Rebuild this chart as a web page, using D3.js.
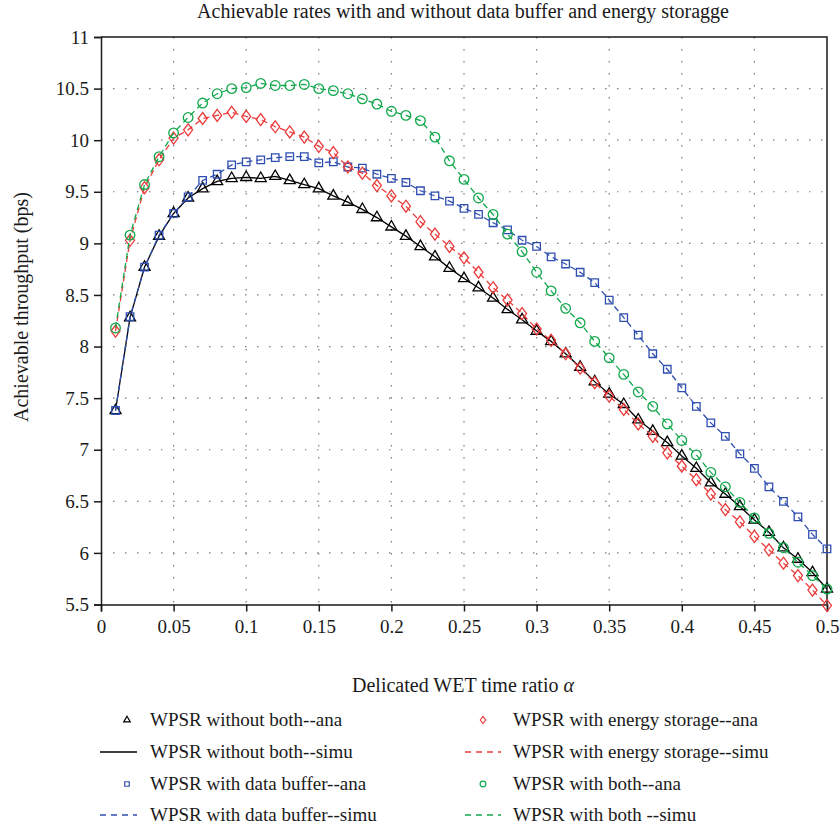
<!DOCTYPE html>
<html lang="en">
<head>
<meta charset="UTF-8">
<title>Achievable rates</title>
<script src="https://d3js.org/d3.v7.min.js"></script>
<style>
    body { margin: 0; background: #fff; }
    svg { font-family: "Liberation Serif", "DejaVu Serif", serif; }
</style>
</head>
<body>
<svg width="840" height="826"></svg>
<script>
    // WET time ratio alpha, 0.01 .. 0.50
    const alphas = [0.01,0.02,0.03,0.04,0.05,0.06,0.07,0.08,0.09,0.10,
                    0.11,0.12,0.13,0.14,0.15,0.16,0.17,0.18,0.19,0.20,
                    0.21,0.22,0.23,0.24,0.25,0.26,0.27,0.28,0.29,0.30,
                    0.31,0.32,0.33,0.34,0.35,0.36,0.37,0.38,0.39,0.40,
                    0.41,0.42,0.43,0.44,0.45,0.46,0.47,0.48,0.49,0.50];

    const withoutBoth = [7.38,8.28,8.77,9.07,9.29,9.44,9.53,9.60,9.63,9.64,
                         9.63,9.65,9.61,9.57,9.53,9.46,9.40,9.33,9.25,9.16,
                         9.07,8.97,8.87,8.76,8.66,8.57,8.47,8.36,8.26,8.15,
                         8.05,7.93,7.80,7.66,7.54,7.44,7.29,7.18,7.07,6.94,
                         6.82,6.68,6.57,6.45,6.32,6.20,6.05,5.94,5.81,5.65];

    const dataBuffer = [7.38,8.29,8.77,9.08,9.29,9.45,9.61,9.67,9.76,9.79,
                        9.81,9.83,9.84,9.84,9.78,9.79,9.74,9.73,9.67,9.63,
                        9.59,9.51,9.46,9.41,9.34,9.28,9.20,9.13,9.03,8.97,
                        8.87,8.80,8.72,8.62,8.45,8.28,8.11,7.93,7.78,7.60,
                        7.42,7.26,7.13,6.96,6.82,6.64,6.50,6.35,6.18,6.04];

    const energyStorage = [8.15,9.03,9.54,9.81,10.02,10.10,10.21,10.24,10.27,10.23,
                           10.20,10.13,10.08,10.03,9.94,9.88,9.74,9.68,9.56,9.46,
                           9.36,9.21,9.09,8.97,8.86,8.72,8.57,8.45,8.32,8.17,
                           8.06,7.93,7.79,7.65,7.52,7.39,7.25,7.13,6.97,6.84,
                           6.71,6.57,6.42,6.30,6.16,6.03,5.90,5.78,5.64,5.49];

    const withBoth = [8.18,9.08,9.57,9.84,10.07,10.22,10.36,10.45,10.50,10.51,
                      10.55,10.53,10.53,10.54,10.50,10.48,10.45,10.40,10.35,10.28,
                      10.24,10.19,10.03,9.80,9.62,9.44,9.28,9.09,8.92,8.72,
                      8.54,8.37,8.23,8.05,7.89,7.73,7.56,7.42,7.25,7.09,
                      6.95,6.78,6.64,6.49,6.34,6.19,6.05,5.91,5.78,5.65];

    const xTicks = [0,0.05,0.1,0.15,0.2,0.25,0.3,0.35,0.4,0.45,0.5];
    const yTicks = [5.5,6,6.5,7,7.5,8,8.5,9,9.5,10,10.5,11];

    const series = [
        {name: "WPSR without both", values: withoutBoth, color: "#000000", marker: "triangle", dash: null,
         ana: "WPSR without both--ana", simu: "WPSR without both--simu"},
        {name: "WPSR with data buffer", values: dataBuffer, color: "#2f4fb0", marker: "square", dash: "6,4",
         ana: "WPSR with data buffer--ana", simu: "WPSR with data buffer--simu"},
        {name: "WPSR with energy storage", values: energyStorage, color: "#ec3b3b", marker: "diamond", dash: "6,4",
         ana: "WPSR with energy storage--ana", simu: "WPSR with energy storage--simu"},
        {name: "WPSR with both", values: withBoth, color: "#12a84c", marker: "circle", dash: "6,4",
         ana: "WPSR with both--ana", simu: "WPSR with both --simu"}
    ];

    const svg = d3.select("svg");
    const pLeft = 101, pRight = 827, pTop = 37, pBottom = 604.5;

    const x = d3.scaleLinear().domain([0, 0.5]).range([pLeft, pRight]);
    const y = d3.scaleLinear().domain([5.5, 11]).range([pBottom, pTop]);

    // marker paths, scale k for the small legend ones
    function markerPath(type, k) {
        if (type === "triangle") {
            const w = 11 * k, h = 9.5 * k;
            return `M0,${-2 * h / 3}L${w / 2},${h / 3}L${-w / 2},${h / 3}Z`;
        }
        if (type === "square") {
            const s = 7.5 * k / 2;
            return `M${-s},${-s}H${s}V${s}H${-s}Z`;
        }
        if (type === "diamond") {
            const w = 9 * k / 2, h = 12 * k / 2;
            return `M0,${-h}L${w},0L0,${h}L${-w},0Z`;
        }
        return d3.symbol(d3.symbolCircle, Math.PI * Math.pow(4.8 * k, 2))();
    }

    // grid
    const grid = svg.append("g")
        .attr("stroke", "#7a7a7a")
        .attr("stroke-width", 1.2)
        .attr("stroke-dasharray", "1.5,10.5");
    grid.selectAll("line.gx")
        .data(xTicks.slice(1, -1))
        .join("line")
        .attr("x1", d => x(d)).attr("x2", d => x(d))
        .attr("y1", pTop).attr("y2", pBottom);
    grid.selectAll("line.gy")
        .data(yTicks.slice(1, -1))
        .join("line")
        .attr("y1", d => y(d)).attr("y2", d => y(d))
        .attr("x1", pLeft).attr("x2", pRight);

    // axes
    const xAxis = svg.append("g")
        .attr("transform", `translate(0,${pBottom})`)
        .call(d3.axisBottom(x).tickValues(xTicks).tickFormat(d3.format("")).tickSizeOuter(0).tickSize(7).tickPadding(8));
    const yAxis = svg.append("g")
        .attr("transform", `translate(${pLeft},0)`)
        .call(d3.axisLeft(y).tickValues(yTicks).tickFormat(d3.format("")).tickSizeOuter(0).tickSize(7).tickPadding(5));
    [xAxis, yAxis].forEach(a => {
        a.attr("font-family", null);
        a.selectAll("text").attr("font-size", 19).attr("fill", "#1a1a1a");
        a.selectAll("line").attr("stroke", "#1a1a1a").attr("stroke-width", 1.5);
        a.select(".domain").attr("stroke", "#1a1a1a").attr("stroke-width", 1.5);
    });

    // box top / right
    svg.append("path")
        .attr("d", `M${pLeft},${pTop}H${pRight}V${pBottom}`)
        .attr("fill", "none")
        .attr("stroke", "#1a1a1a")
        .attr("stroke-width", 1.5);

    const line = d3.line()
        .x((d, i) => x(alphas[i]))
        .y(d => y(d));

    series.forEach(s => {
        const g = svg.append("g");
        g.selectAll("path.mk")
            .data(s.values)
            .join("path")
            .attr("class", "mk")
            .attr("transform", (d, i) => `translate(${x(alphas[i])},${y(d)})`)
            .attr("d", markerPath(s.marker, 1))
            .attr("fill", "none")
            .attr("stroke", s.color)
            .attr("stroke-width", 1.3);
        g.append("path")
            .datum(s.values)
            .attr("d", line)
            .attr("fill", "none")
            .attr("stroke", s.color)
            .attr("stroke-width", 1.3)
            .attr("stroke-dasharray", s.dash);
    });

    // title and axis labels
    svg.append("text")
        .attr("x", 463).attr("y", 18)
        .attr("text-anchor", "middle")
        .attr("font-size", 20)
        .attr("fill", "#1a1a1a")
        .text("Achievable rates with and without data buffer and energy storagge");

    const xl = svg.append("text")
        .attr("x", 463).attr("y", 692)
        .attr("text-anchor", "middle")
        .attr("font-size", 20)
        .attr("fill", "#1a1a1a");
    xl.append("tspan").text("Delicated WET time ratio ");
    xl.append("tspan").attr("font-style", "italic").text("α");

    svg.append("text")
        .attr("transform", "translate(28,307) rotate(-90)")
        .attr("text-anchor", "middle")
        .attr("font-size", 20)
        .attr("fill", "#1a1a1a")
        .text("Achievable throughput (bps)");

    // legend: column 1 holds series 0,1 ; column 2 holds series 2,3
    const rowsY = [720, 752, 784, 815];
    const cols = [{mx: 127, lx0: 100, lx1: 137, tx: 150}, {mx: 483, lx0: 465, lx1: 501, tx: 513}];
    const legend = svg.append("g");
    series.forEach((s, i) => {
        const c = cols[Math.floor(i / 2)];
        const r0 = rowsY[(i % 2) * 2], r1 = rowsY[(i % 2) * 2 + 1];
        legend.append("path")
            .attr("transform", `translate(${c.mx},${r0})`)
            .attr("d", markerPath(s.marker, 0.6))
            .attr("fill", "none")
            .attr("stroke", s.color)
            .attr("stroke-width", 1.2);
        legend.append("text")
            .attr("x", c.tx).attr("y", r0 + 6)
            .attr("font-size", 19)
            .attr("fill", "#1a1a1a")
            .text(s.ana);
        legend.append("line")
            .attr("x1", c.lx0).attr("x2", c.lx1)
            .attr("y1", r1).attr("y2", r1)
            .attr("stroke", s.color)
            .attr("stroke-width", 1.3)
            .attr("stroke-dasharray", s.dash ? "6,5" : null);
        legend.append("text")
            .attr("x", c.tx).attr("y", r1 + 6)
            .attr("font-size", 19)
            .attr("fill", "#1a1a1a")
            .text(s.simu);
    });
</script>
</body>
</html>
